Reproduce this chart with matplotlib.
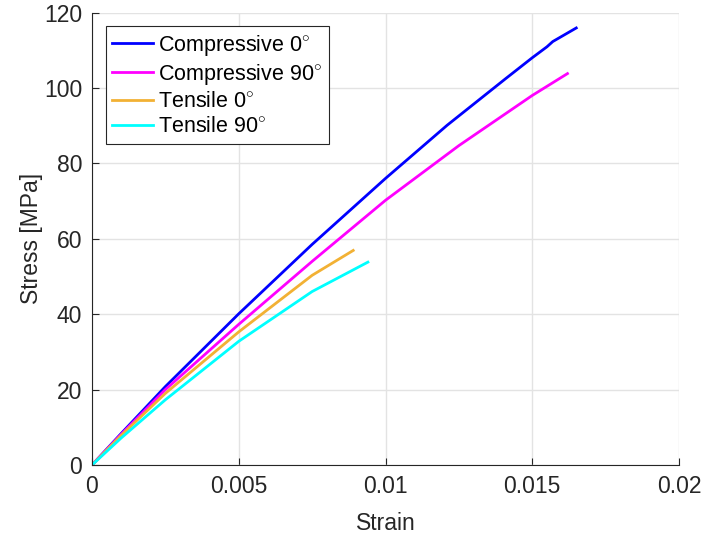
import matplotlib
matplotlib.use('Agg')
import matplotlib.pyplot as plt

# Stress-strain curves
comp0_strain = [0, 0.001, 0.0025, 0.005, 0.0075, 0.01, 0.0121, 0.0141, 0.015, 0.0155, 0.0157, 0.0165]
comp0_stress = [0, 8.4, 20.8, 40.1, 58.5, 76.0, 90.1, 102.5, 108.0, 110.9, 112.3, 115.9]

comp90_strain = [0, 0.001, 0.0025, 0.005, 0.0075, 0.01, 0.0125, 0.015, 0.0162]
comp90_stress = [0, 8.2, 20.0, 37.3, 54.0, 70.2, 84.7, 98.0, 103.8]

tens0_strain = [0, 0.001, 0.0025, 0.005, 0.0075, 0.0089]
tens0_stress = [0, 7.9, 19.0, 35.3, 50.3, 56.9]

tens90_strain = [0, 0.001, 0.0025, 0.005, 0.0075, 0.0094]
tens90_stress = [0, 7.2, 17.3, 32.8, 46.0, 53.8]

labels = ['Compressive 0$^{\\circ}$', 'Compressive 90$^{\\circ}$',
          'Tensile 0$^{\\circ}$', 'Tensile 90$^{\\circ}$']
colors = ['#0000ff', '#ff00ff', '#f2b134', '#00ffff']

xticks = [0, 0.005, 0.01, 0.015, 0.02]
xtick_labels = ['0', '0.005', '0.01', '0.015', '0.02']
yticks = [0, 20, 40, 60, 80, 100, 120]

plt.rcParams['font.family'] = ['Liberation Sans', 'DejaVu Sans']
plt.rcParams['mathtext.fontset'] = 'custom'
plt.rcParams['mathtext.rm'] = 'Liberation Sans'

fig = plt.figure(figsize=(7.04, 5.41), dpi=100)
ax = fig.add_axes([92 / 704, 76 / 541, 587 / 704, 452.5 / 541])

series = [(comp0_strain, comp0_stress), (comp90_strain, comp90_stress),
          (tens0_strain, tens0_stress), (tens90_strain, tens90_stress)]
for (x, y), lab, c in zip(series, labels, colors):
    ax.plot(x, y, color=c, lw=2.0, label=lab, solid_joinstyle='round')

ax.set_xlim(0, 0.02)
ax.set_ylim(0, 120)
ax.set_xticks(xticks)
ax.set_xticklabels(xtick_labels)
ax.set_yticks(yticks)
ax.grid(True, color='#e3e3e3', lw=1.0)
ax.set_axisbelow(True)
for side in ['top', 'right']:
    ax.spines[side].set_visible(False)
for side in ['left', 'bottom']:
    ax.spines[side].set_color('#262626')
    ax.spines[side].set_linewidth(0.8)
ax.tick_params(direction='in', length=5, width=0.8, color='#262626',
               labelsize=16.5, labelcolor='#262626', pad=7)

ax.set_xlabel('Strain', fontsize=16.5, color='#262626', labelpad=10)
ax.set_ylabel('Stress [MPa]', fontsize=16.5, color='#262626', labelpad=1)

leg = ax.legend(loc='upper left', bbox_to_anchor=(0.0239, 0.970),
                borderaxespad=0, fontsize=15.5, handlelength=1.86,
                handletextpad=0.25, labelspacing=0.2, borderpad=0.3,
                fancybox=False, framealpha=1)
leg.get_frame().set_edgecolor('#262626')
leg.get_frame().set_linewidth(0.8)

fig.savefig('out.png', dpi=100)
